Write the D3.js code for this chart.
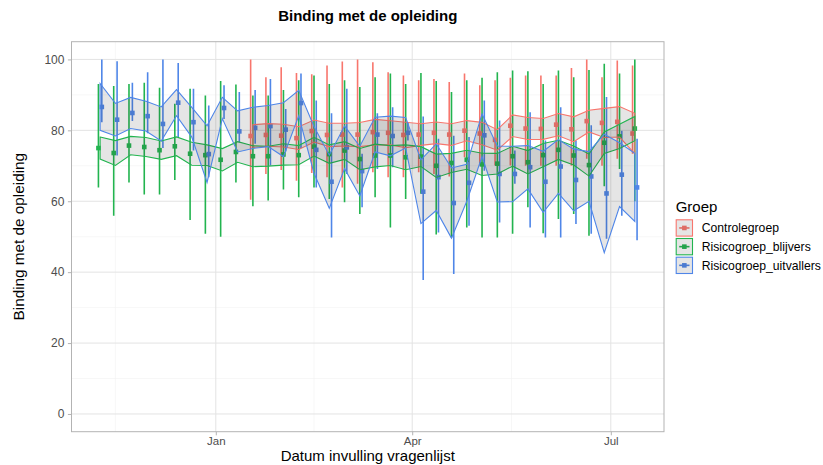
<!DOCTYPE html>
<html>
<head>
<meta charset="utf-8">
<script src="https://cdn.jsdelivr.net/npm/d3@7"></script>
<style>
  html, body { margin: 0; padding: 0; background: #ffffff; }
  svg { display: block; font-family: "Liberation Sans", Arial, Helvetica, sans-serif; }
</style>
</head>
<body>
<svg id="chart" width="823" height="465"></svg>
<script>
// Weekly survey dates (Monday of each week)
const weeks = [
  "2020-11-09","2020-11-16","2020-11-23","2020-11-30","2020-12-07","2020-12-14",
  "2020-12-21","2020-12-28","2021-01-04","2021-01-11","2021-01-18","2021-01-25",
  "2021-02-01","2021-02-08","2021-02-15","2021-02-22","2021-03-01","2021-03-08",
  "2021-03-15","2021-03-22","2021-03-29","2021-04-05","2021-04-12","2021-04-19",
  "2021-04-26","2021-05-03","2021-05-10","2021-05-17","2021-05-24","2021-05-31",
  "2021-06-07","2021-06-14","2021-06-21","2021-06-28","2021-07-05","2021-07-12"
];
// The control group starts later
const controlFirstWeek = "2021-01-18";

const groups = ["Controlegroep", "Risicogroep_blijvers", "Risicogroep_uitvallers"];
const groupColors = ["#F8766D", "#22B44F", "#4F86E8"];

// Controlegroep: weekly mean, half-width of the band, lower/upper end of the bar
const controlMean = [78.4, 78.7, 78.5, 77.8, 79.8, 78.7, 78.8, 78.8, 79.5, 79.3, 78.7, 78.8, 79.3,
                     78.8, 79.9, 79.1, 77.3, 81.3, 80.5, 80.4, 81.6, 80.3, 82.6, 82.1, 82.4, 79.1];
const controlBand = [3.2, 3.2, 3.2, 3.2, 3.1, 3.3, 3.2, 3.4, 3.6, 3.4, 3.6, 3.05, 3.05,
                     3.05, 2.85, 3.15, 2.9, 3.05, 3.1, 2.95, 3.15, 3.5, 3.05, 4.1, 4.3, 5.7];
const controlLow  = [60.4, 67.7, 68.8, 65.8, 68.0, 66.8, 63.9, 64.9, 68.2, 66.8, 66.8, 68.2, 67.7,
                     67.0, 72.4, 70.0, 70.1, 70.1, 70.0, 70.0, 70.0, 70.0, 72.0, 70.0, 72.0, 73.4];
const controlHigh = [100, 95.0, 97.8, 96.2, 95.8, 98.3, 99.4, 100, 99.2, 96.4, 95.5, 94.1, 94.5,
                     93.6, 96.0, 92.7, 94.1, 94.8, 95.5, 95.5, 95.5, 97.6, 100, 95.0, 99.7, 98.3];

// Risicogroep_blijvers
const stayMean = [75.0, 73.6, 75.7, 75.3, 74.4, 75.5, 73.4, 73.0, 71.7, 73.9, 72.7, 72.7,
                  73.2, 73.0, 75.4, 73.3, 74.3, 71.9, 72.9, 72.9, 72.4, 72.6, 70.0, 70.8,
                  71.7, 70.4, 70.6, 72.7, 71.0, 73.0, 74.5, 72.9, 70.2, 76.5, 78.3, 80.5];
const stayBand = [3.1, 3.5, 2.6, 2.7, 2.6, 2.65, 3.25, 2.9, 3.15, 2.9, 2.95, 2.8,
                  3.0, 2.7, 2.65, 2.6, 2.5, 3.0, 3.2, 2.8, 3.5, 2.8, 3.3, 2.7,
                  2.7, 3.15, 2.9, 2.8, 3.3, 3.3, 2.7, 2.7, 3.1, 3.05, 3.4, 3.4];
const stayLow  = [63.9, 55.9, 65.3, 61.9, 61.9, 66.0, 54.7, 50.8, 50.0, 65.3, 58.6, 60.2,
                  63.3, 61.1, 63.9, 60.6, 59.7, 56.4, 61.1, 52.6, 60.6, 62.1, 50.6, 49.8,
                  52.6, 49.8, 49.8, 50.8, 58.3, 51.0, 55.0, 56.4, 50.3, 64.2, 69.1, 60.0];
const stayHigh = [93.1, 92.5, 93.1, 93.4, 92.0, 87.5, 91.7, 89.8, 93.9, 92.9, 89.8, 89.8,
                  91.4, 94.1, 95.5, 93.1, 94.1, 92.2, 95.0, 96.0, 93.1, 96.2, 93.9, 90.8,
                  94.1, 94.8, 96.4, 96.9, 96.7, 93.1, 96.9, 95.0, 97.0, 98.8, 96.0, 100];

// Risicogroep_uitvallers
const dropMean = [86.6, 83.0, 84.9, 84.0, 81.8, 87.8, 82.3, 73.3, 86.3, 79.7, 80.7, 81.2,
                  80.2, 87.7, 74.5, 65.5, 75.2, 68.5, 78.8, 78.4, 79.3, 62.7, 66.8, 59.5,
                  65.2, 78.6, 67.7, 67.7, 69.6, 65.5, 69.8, 66.0, 67.0, 62.2, 67.5, 63.9];
const dropBand = [6.6, 4.6, 4.4, 4.2, 4.8, 3.7, 4.2, 8.0, 3.0, 5.8, 5.8, 5.8,
                  7.6, 3.6, 6.6, 7.5, 6.0, 7.0, 4.9, 5.6, 4.3, 9.0, 9.4, 9.9,
                  5.2, 6.0, 7.9, 7.8, 6.1, 8.6, 7.6, 8.7, 7.0, 16.7, 9.0, 9.6];
const dropLow  = [82.3, 72.9, 82.6, 79.2, 75.0, 78.1, 74.3, 66.8, 83.2, 76.6, 76.2, 70.1,
                  74.0, 75.0, 63.9, 49.8, 67.7, 58.3, 69.1, 69.6, 77.1, 37.8, 51.2, 39.5,
                  53.1, 68.6, 54.0, 64.9, 52.6, 49.8, 49.8, 53.6, 50.8, 49.4, 55.9, 49.0];
const dropHigh = [100, 99.5, 93.4, 96.4, 100, 99.0, 91.7, 87.0, 92.7, 90.8, 91.4, 94.5,
                  86.0, 96.0, 88.4, 84.8, 91.7, 73.4, 84.8, 86.5, 82.3, 83.9, 77.6, 78.5,
                  78.1, 88.4, 82.8, 74.3, 85.1, 77.1, 86.5, 77.1, 81.4, 89.4, 79.9, 77.6];

const yTicks = [0, 20, 40, 60, 80, 100];
const yMinor = [10, 30, 50, 70, 90];
const xMajorDates = ["2020-10-01", "2021-01-01", "2021-04-01", "2021-07-01", "2021-10-01"];

// ---------------------------------------------------------------------------
const parse = d3.utcParse("%Y-%m-%d");
const DAY = 864e5;
const weekDates = weeks.map(parse);
const ctrlStart = weeks.indexOf(controlFirstWeek);

function buildSeries(gi, mean, band, lo, hi, offset) {
  return mean.map((m, i) => ({
    group: gi, week: i + offset, date: weekDates[i + offset],
    mean: m, bandLo: m - band[i], bandHi: m + band[i], lo: lo[i], hi: hi[i]
  }));
}
const series = [
  buildSeries(0, controlMean, controlBand, controlLow, controlHigh, ctrlStart),
  buildSeries(1, stayMean, stayBand, stayLow, stayHigh, 0),
  buildSeries(2, dropMean, dropBand, dropLow, dropHigh, 0)
];

// Side-by-side dodging of points and bars within a week
const dodgeDays = 3.1;
weekDates.forEach((d, wi) => {
  const present = series.map(s => s.find(r => r.week === wi)).filter(Boolean);
  const n = present.length;
  present.forEach((r, k) => {
    r.xd = new Date(+d + (-dodgeDays / 2 + dodgeDays / n * (k + 0.5)) * DAY);
  });
});

// Panel geometry
const P = { left: 71.5, right: 664, top: 41.7, bottom: 431.7 };
const svg = d3.select("#chart");

const allX = series.flat().map(r => +r.xd);
const xLo = d3.min(allX), xHi = d3.max(allX), xPad = (xHi - xLo) * 0.05;
const x = d3.scaleUtc().domain([xLo - xPad, xHi + xPad]).range([P.left, P.right]);
const y = d3.scaleLinear().domain([-5, 105]).range([P.bottom, P.top]);

const xMajor = xMajorDates.map(parse);
const xMinor = d3.pairs(xMajor).map(([a, b]) => new Date((+a + +b) / 2));
const inX = d => +d >= +x.domain()[0] && +d <= +x.domain()[1];

const defs = svg.append("defs");
defs.append("clipPath").attr("id", "panel-clip").append("rect")
  .attr("x", P.left).attr("y", P.top).attr("width", P.right - P.left).attr("height", P.bottom - P.top);

// Grid
const grid = svg.append("g");
grid.selectAll(".ymin").data(yMinor).join("line")
  .attr("x1", P.left).attr("x2", P.right).attr("y1", d => y(d)).attr("y2", d => y(d))
  .attr("stroke", "#f2f2f2").attr("stroke-width", 0.6);
grid.selectAll(".xmin").data(xMinor.filter(inX)).join("line")
  .attr("y1", P.top).attr("y2", P.bottom).attr("x1", d => x(d)).attr("x2", d => x(d))
  .attr("stroke", "#f2f2f2").attr("stroke-width", 0.6);
grid.selectAll(".ymaj").data(yTicks).join("line")
  .attr("x1", P.left).attr("x2", P.right).attr("y1", d => y(d)).attr("y2", d => y(d))
  .attr("stroke", "#e3e3e3").attr("stroke-width", 1);
grid.selectAll(".xmaj").data(xMajor.filter(inX)).join("line")
  .attr("y1", P.top).attr("y2", P.bottom).attr("x1", d => x(d)).attr("x2", d => x(d))
  .attr("stroke", "#e3e3e3").attr("stroke-width", 1);

const plot = svg.append("g").attr("clip-path", "url(#panel-clip)");

// Bars
series.forEach((s, gi) => {
  plot.append("g").selectAll("line").data(s).join("line")
    .attr("x1", d => x(d.xd)).attr("x2", d => x(d.xd))
    .attr("y1", d => y(d.lo)).attr("y2", d => y(d.hi))
    .attr("stroke", groupColors[gi]).attr("stroke-width", 1.6);
});
// Points
const sq = 4.6;
series.forEach((s, gi) => {
  plot.append("g").selectAll("rect").data(s).join("rect")
    .attr("x", d => x(d.xd) - sq / 2).attr("y", d => y(d.mean) - sq / 2)
    .attr("width", sq).attr("height", sq)
    .attr("fill", groupColors[gi]);
});
// Bands
const band = d3.area().x(d => x(d.date)).y0(d => y(d.bandLo)).y1(d => y(d.bandHi));
series.forEach((s, gi) => {
  plot.append("path").datum(s)
    .attr("d", d => band(d) + "Z")
    .attr("fill", "#333333").attr("fill-opacity", 0.13)
    .attr("stroke", groupColors[gi]).attr("stroke-width", 1.1)
    .attr("stroke-linejoin", "miter");
});

// Panel border
svg.append("rect").attr("x", P.left).attr("y", P.top)
  .attr("width", P.right - P.left).attr("height", P.bottom - P.top)
  .attr("fill", "none").attr("stroke", "#b3b3b3").attr("stroke-width", 1);

// Axes
const yAxis = d3.axisLeft(y).tickValues(yTicks).tickSize(3.6).tickPadding(3.5);
const gy = svg.append("g").attr("transform", `translate(${P.left},0)`).call(yAxis);
const xAxis = d3.axisBottom(x).tickValues(xMajor.filter(inX)).tickFormat(d3.utcFormat("%b"))
  .tickSize(3.6).tickPadding(1.8);
const gx = svg.append("g").attr("transform", `translate(0,${P.bottom})`).call(xAxis);
[gy, gx].forEach(g => {
  g.select(".domain").remove();
  g.selectAll(".tick line").attr("stroke", "#b3b3b3");
  g.selectAll(".tick text").attr("fill", "#4d4d4d")
    .attr("font-family", "'Liberation Sans', Arial, sans-serif");
});
gy.selectAll(".tick text").attr("font-size", 12);
gx.selectAll(".tick text").attr("font-size", 11.5);

// Titles
svg.append("text").attr("x", (P.left + P.right) / 2).attr("y", 21)
  .attr("text-anchor", "middle").attr("font-size", 15).attr("font-weight", "bold")
  .text("Binding met de opleiding");
svg.append("text").attr("x", (P.left + P.right) / 2).attr("y", 461)
  .attr("text-anchor", "middle").attr("font-size", 15)
  .text("Datum invulling vragenlijst");
svg.append("text")
  .attr("transform", `translate(23.5,${(P.top + P.bottom) / 2}) rotate(-90)`)
  .attr("text-anchor", "middle").attr("font-size", 15.3)
  .text("Binding met de opleiding");

// Legend
const lg = svg.append("g").attr("transform", "translate(675.7,0)");
lg.append("text").attr("x", 0).attr("y", 211.5).attr("font-size", 15).text("Groep");
const keySize = 17.3, keyStep = 18.7, keyTop = 219.3;
groups.forEach((g, i) => {
  const ky = keyTop + i * keyStep;
  const k = lg.append("g").attr("transform", `translate(0,${ky})`);
  k.append("line").attr("x1", 3.5).attr("x2", keySize - 3.5)
    .attr("y1", keySize / 2).attr("y2", keySize / 2)
    .attr("stroke", groupColors[i]).attr("stroke-width", 1.6);
  k.append("rect").attr("x", keySize / 2 - sq / 2).attr("y", keySize / 2 - sq / 2)
    .attr("width", sq).attr("height", sq).attr("fill", groupColors[i]);
  k.append("rect").attr("x", 0.5).attr("y", 0.5).attr("width", keySize - 1).attr("height", keySize - 1)
    .attr("fill", "#333333").attr("fill-opacity", 0.13)
    .attr("stroke", groupColors[i]).attr("stroke-width", 1.1);
  lg.append("text").attr("x", 26).attr("y", ky + keySize / 2).attr("dy", "0.35em")
    .attr("font-size", 12.2).text(g);
});
</script>
</body>
</html>
